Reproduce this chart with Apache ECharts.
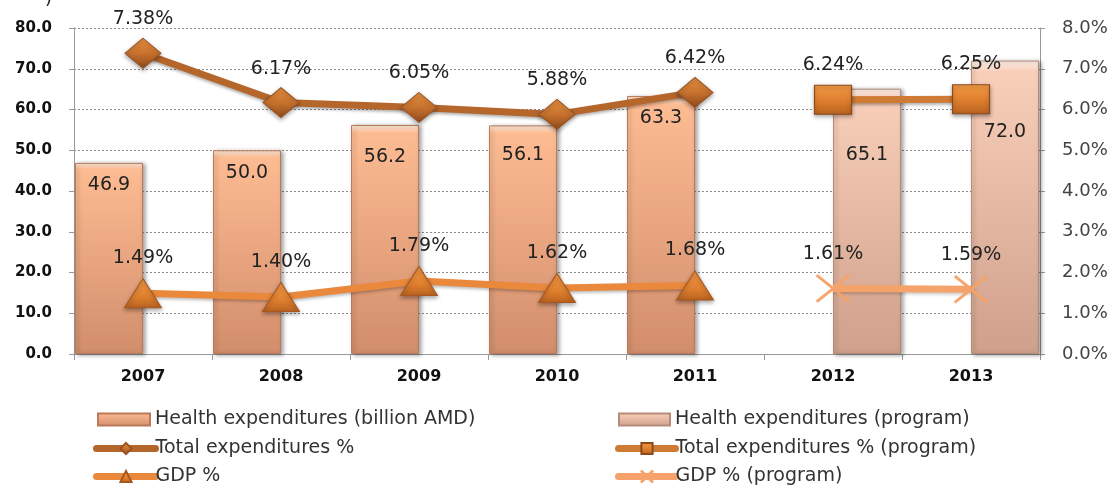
<!DOCTYPE html>
<html>
<head>
<meta charset="utf-8">
<script src="https://cdn.jsdelivr.net/npm/echarts@6/dist/echarts.min.js"></script>
<style>
html,body{margin:0;padding:0;background:#fff;}
#chart{width:1118px;height:485px;}
</style>
</head>
<body>
<div id="chart"></div>
<script>
// ---- data ----
const years = ['2007','2008','2009','2010','2011','2012','2013'];
const healthExp = [46.9, 50.0, 56.2, 56.1, 63.3, null, null];
const healthExpProgram = [null, null, null, null, null, 65.1, 72.0];
const totalPct = [7.38, 6.17, 6.05, 5.88, 6.42, null, null];
const totalPctProgram = [null, null, null, null, null, 6.24, 6.25];
const gdpPct = [1.49, 1.40, 1.79, 1.62, 1.68, null, null];
const gdpPctProgram = [null, null, null, null, null, 1.61, 1.59];
const seriesNames = [
  'Health expenditures (billion AMD)',
  'Health expenditures (program)',
  'Total expenditures %',
  'Total expenditures % (program)',
  'GDP %',
  'GDP % (program)'
];

// ---- styles ----
const barLabelDy = [22, 23, 32, 30, 22, 66, 71];
const labelFont = 'DejaVu Sans';
// [left, top, iconWidth, textPadLeft, isLine]
const legendLayout = [
  [97, 410, 52, 0, false], [618, 410, 51, 0, false],
  [93, 439, 59, -5, true], [615, 439, 57, -5, true],
  [93, 467, 59, -5, true], [615, 467, 57, -5, true]
];
function grad(stops){
  return {type:'linear', x:0, y:0, x2:0, y2:1,
    colorStops: stops.map(c=>({offset: c[0], color: c[1]}))};
}
const barFill = grad([[0,'#FFEEDD'],[0.035,'#FDBB92'],[1,'#D28E6C']]);
const barFillProg = grad([[0,'#FFF4EC'],[0.035,'#F9CFBA'],[1,'#CFA08C']]);
const toData = (arr) => arr.map(v => v == null ? '-' : v);

function barData(arr){
  return arr.map((v,i)=> v==null ? '-' : {
    value: v,
    label: {position: ['50%', barLabelDy[i]]}
  });
}

const chart = echarts.init(document.getElementById('chart'), null, {renderer:'canvas'});
const legends = seriesNames.map((n, i) => {
  const L = legendLayout[i];
  const lg = {
    data: [L[4] ? n : {name: n, icon: 'rect'}],
    orient: 'horizontal', left: L[0], top: L[1],
    padding: 0, itemWidth: L[2], itemHeight: L[4] ? 14 : 12, itemGap: 5,
    textStyle: {fontFamily: 'DejaVu Sans', fontSize: 19, lineHeight: 18, color: '#333', padding: [0,0,0,L[3]]}
  };
  if (L[4]) lg.lineStyle = {width: 7, cap: 'round'};
  return lg;
});
const option = {
  animation: false,
  backgroundColor: '#ffffff',
  title: {
    text: ')', left: 40, top: -15,
    textStyle: {fontFamily: labelFont, fontSize: 18, fontWeight: 'normal', color: '#222'}
  },
  grid: {left: 74, right: 78, top: 28, bottom: 131, containLabel: false},
  legend: legends,
  xAxis: {
    type: 'category', data: years, boundaryGap: true,
    axisLine: {show: true, lineStyle: {color: '#999', width: 1}},
    axisTick: {show: true, length: 6, lineStyle: {color: '#999'}},
    axisLabel: {fontFamily: 'DejaVu Sans', fontWeight: 'bold', fontSize: 16, color: '#111', margin: 15}
  },
  yAxis: [
    {
      type: 'value', min: 0, max: 80, interval: 10,
      axisLine: {show: true, lineStyle: {color: '#999'}},
      axisTick: {show: true, length: 5, lineStyle: {color: '#999'}},
      axisLabel: {fontFamily: 'DejaVu Sans', fontWeight: 'bold', fontSize: 15, color: '#111', margin: 22,
        formatter: v => v.toFixed(1)},
      splitLine: {show: true, lineStyle: {color: '#8a8a8a', type: [2,2], width: 1}}
    },
    {
      type: 'value', min: 0, max: 8, interval: 1, position: 'right',
      axisLine: {show: true, lineStyle: {color: '#999'}},
      axisTick: {show: true, length: 5, lineStyle: {color: '#999'}},
      axisLabel: {fontFamily: labelFont, fontSize: 18, color: '#444', margin: 22,
        formatter: v => v.toFixed(1) + '%'},
      splitLine: {show: false}
    }
  ],
  series: [
    {
      name: seriesNames[0], type: 'bar', yAxisIndex: 0,
      data: barData(healthExp), barWidth: 68, barGap: '0%',
      itemStyle: {color: barFill, borderColor: '#B9795A', borderWidth: 1,
        shadowColor: 'rgba(0,0,0,0.35)', shadowBlur: 4, shadowOffsetX: 2, shadowOffsetY: 1},
      label: {show: true, align: 'center', verticalAlign: 'middle',
        fontFamily: labelFont, fontSize: 19, color: '#222', formatter: p => p.value.toFixed(1)},
      z: 2
    },
    {
      name: seriesNames[1], type: 'bar', yAxisIndex: 0,
      data: barData(healthExpProgram), barWidth: 68, barGap: '0%',
      itemStyle: {color: barFillProg, borderColor: '#B58C7A', borderWidth: 1,
        shadowColor: 'rgba(0,0,0,0.35)', shadowBlur: 4, shadowOffsetX: 2, shadowOffsetY: 1},
      label: {show: true, align: 'center', verticalAlign: 'middle',
        fontFamily: labelFont, fontSize: 19, color: '#222', formatter: p => p.value.toFixed(1)},
      z: 2
    },
    {
      name: seriesNames[2], type: 'line', yAxisIndex: 1,
      data: toData(totalPct), connectNulls: false,
      symbol: 'diamond', symbolSize: [36, 30],
      lineStyle: {color: '#B5662B', width: 7, shadowColor: 'rgba(0,0,0,0.3)', shadowBlur: 3, shadowOffsetY: 2},
      itemStyle: {color: grad([[0,'#E8913F'],[0.5,'#C7722E'],[1,'#8F4A1C']]), borderColor: '#9A5322', borderWidth: 1,
        shadowColor: 'rgba(0,0,0,0.35)', shadowBlur: 4, shadowOffsetY: 2},
      label: {show: true, position: 'inside', offset: [0, -34],
        fontFamily: labelFont, fontSize: 19, color: '#222', formatter: p => p.value.toFixed(2) + '%'},
      z: 5
    },
    {
      name: seriesNames[3], type: 'line', yAxisIndex: 1,
      data: toData(totalPctProgram), connectNulls: false,
      symbol: 'rect', symbolSize: [37, 29],
      lineStyle: {color: '#CF7A35', width: 7, shadowColor: 'rgba(0,0,0,0.3)', shadowBlur: 3, shadowOffsetY: 2},
      itemStyle: {color: grad([[0,'#F29A45'],[0.5,'#E0812F'],[1,'#B8621F']]), borderColor: '#8C4A1C', borderWidth: 1,
        shadowColor: 'rgba(0,0,0,0.35)', shadowBlur: 4, shadowOffsetY: 2},
      label: {show: true, position: 'inside', offset: [0, -35],
        fontFamily: labelFont, fontSize: 19, color: '#222', formatter: p => p.value.toFixed(2) + '%'},
      z: 5
    },
    {
      name: seriesNames[4], type: 'line', yAxisIndex: 1,
      data: toData(gdpPct), connectNulls: false,
      symbol: 'triangle', symbolSize: [37, 29],
      lineStyle: {color: '#EA893B', width: 7, shadowColor: 'rgba(0,0,0,0.25)', shadowBlur: 3, shadowOffsetY: 2},
      itemStyle: {color: grad([[0,'#F49A46'],[0.6,'#E0802F'],[1,'#B9621F']]), borderColor: '#A8581F', borderWidth: 1,
        shadowColor: 'rgba(0,0,0,0.35)', shadowBlur: 4, shadowOffsetY: 2},
      label: {show: true, position: 'inside', offset: [0, -35],
        fontFamily: labelFont, fontSize: 19, color: '#222', formatter: p => p.value.toFixed(2) + '%'},
      z: 5
    },
    {
      name: seriesNames[5], type: 'line', yAxisIndex: 1,
      data: toData(gdpPctProgram), connectNulls: false,
      symbol: 'path://M0,1 L1,0 L10,7 L19,0 L20,1 L11,8 L20,15 L19,16 L10,9 L1,16 L0,15 L9,8 Z',
      symbolSize: [34, 28],
      lineStyle: {color: '#F5A36A', width: 7, shadowColor: 'rgba(0,0,0,0.2)', shadowBlur: 3, shadowOffsetY: 2},
      itemStyle: {color: '#F5A36A', borderColor: '#F5A36A', borderWidth: 0.5},
      label: {show: true, position: 'inside', offset: [0, -34],
        fontFamily: labelFont, fontSize: 19, color: '#222', formatter: p => p.value.toFixed(2) + '%'},
      z: 5
    }
  ]
};
chart.setOption(option);
</script>
</body>
</html>
